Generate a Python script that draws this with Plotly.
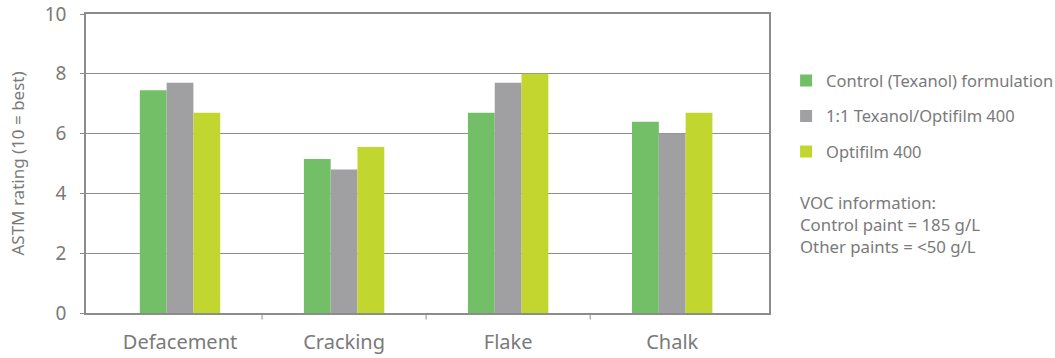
import plotly.graph_objects as go

categories = ["Defacement", "Cracking", "Flake", "Chalk"]
control = [7.45, 5.15, 6.7, 6.4]
blend = [7.7, 4.8, 7.7, 6.0]
optifilm = [6.7, 5.55, 8.0, 6.7]
series_names = ["Control (Texanol) formulation", "1:1 Texanol/Optifilm 400", "Optifilm 400"]
colors = ["#72BF67", "#A0A0A2", "#C1D72F"]
y_ticks = [0, 2, 4, 6, 8, 10]

text_color = "#7A7A7A"
font_family = "Noto Sans, Open Sans, sans-serif"

fig = go.Figure()
for i, (name, vals) in enumerate(zip(series_names, [control, blend, optifilm])):
    fig.add_trace(go.Bar(
        x=categories, y=vals, name=name, marker_color=colors[i],
        marker_line_width=0, legendgroup=f"g{i}",
    ))

# separator ticks between categories
for b in [0.5, 1.5, 2.5]:
    fig.add_shape(type="line", xref="x", yref="paper", x0=b, x1=b, y0=0, y1=-0.022,
                  line=dict(color="#8C8C8C", width=1))

fig.add_annotation(
    text="VOC information:<br>Control paint = 185 g/L<br>Other paints = <50 g/L",
    xref="paper", yref="paper", x=1.042, y=0.415, xanchor="left", yanchor="top",
    align="left", showarrow=False, font=dict(size=16.8, color=text_color, family=font_family),
)

fig.update_layout(
    width=1055, height=358,
    margin=dict(l=86, r=286, t=14, b=45, autoexpand=False),
    plot_bgcolor="white", paper_bgcolor="white",
    barmode="group", bargap=0.51, bargroupgap=0,
    font=dict(family=font_family, color=text_color),
    showlegend=True,
    legend=dict(x=1.025, y=0.835, xanchor="left", yanchor="top",
                font=dict(size=16.5, color=text_color, family=font_family),
                tracegroupgap=11, itemwidth=30, traceorder="grouped",
                bgcolor="rgba(0,0,0,0)"),
    xaxis=dict(
        range=[-0.573, 3.59], showline=True, linecolor="#8C8C8C", linewidth=1.5,
        mirror=True, ticks="", tickfont=dict(size=20, color=text_color),
        showgrid=False, automargin=False, ticklabelstandoff=10,
    ),
    yaxis=dict(
        range=[0, 10], tickvals=y_ticks, showline=True, linecolor="#8C8C8C", linewidth=1.5,
        mirror=True, ticks="outside", ticklen=4, tickcolor="#8C8C8C",
        showgrid=True, gridcolor="#8C8C8C", gridwidth=1,
        tickfont=dict(size=19, color=text_color), ticklabelstandoff=10,
        title=dict(text="ASTM rating (10 = best)", font=dict(size=17, color=text_color), standoff=16),
        zeroline=False, automargin=False,
    ),
)

fig.write_html("out.html")
